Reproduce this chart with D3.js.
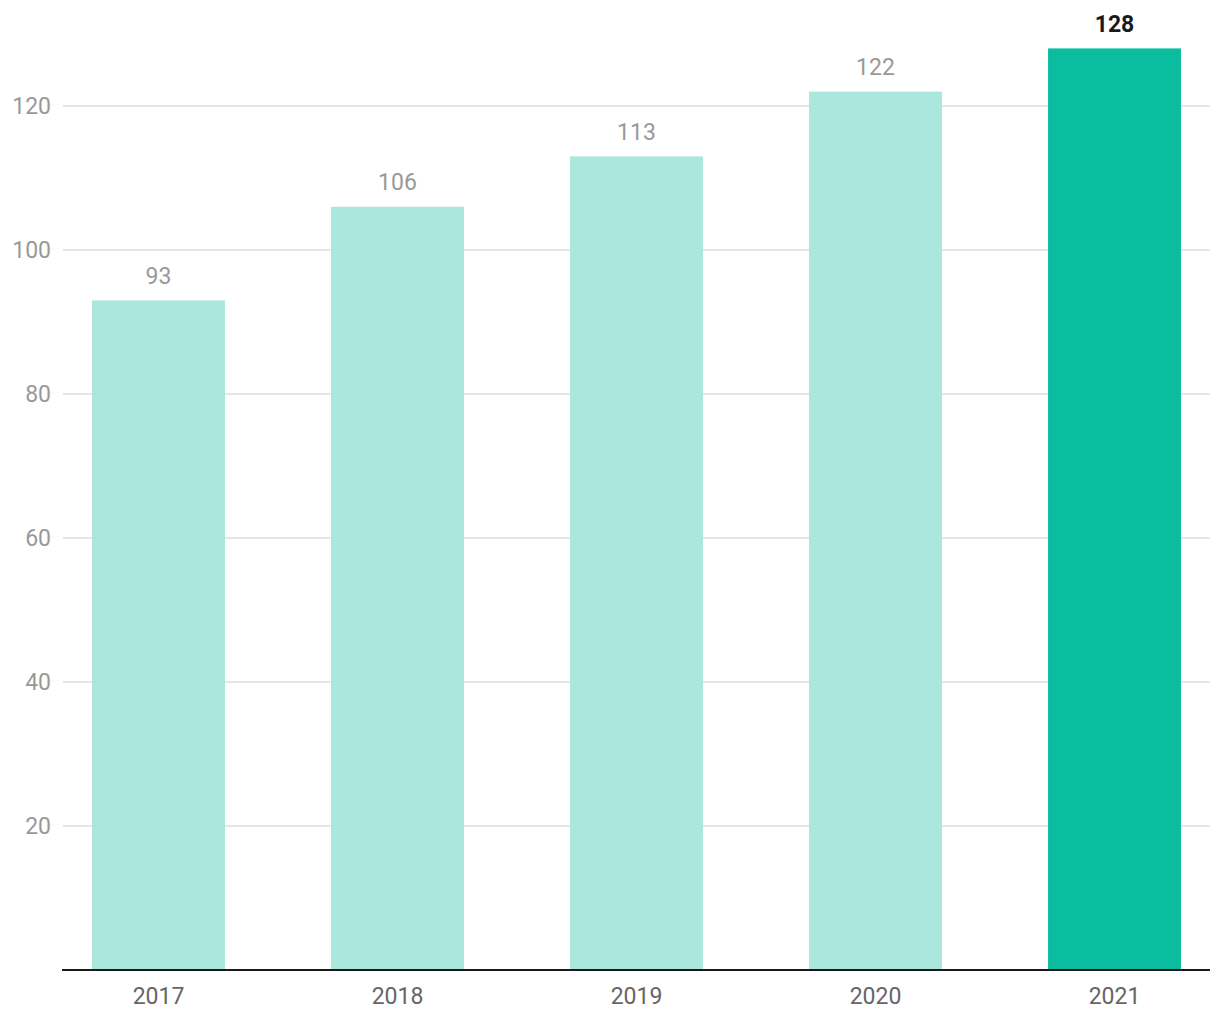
<!DOCTYPE html>
<html><head><meta charset="utf-8">
<script src="https://cdn.jsdelivr.net/npm/d3@7"></script>
<style>body{margin:0;background:#fff}svg{display:block;font-family:Roboto,sans-serif}</style>
</head><body><svg id="c" width="1220" height="1020"></svg>
<script>
const years = ["2017","2018","2019","2020","2021"];
const values = [93,106,113,122,128];
const highlight = ["2021"];
const yTicks = [20,40,60,80,100,120];

const svg = d3.select("#c");
const x = d3.scaleBand().domain(years).range([39,1234]).paddingInner(0.444).paddingOuter(0.222);
const y = d3.scaleLinear().domain([0,128]).range([970,48.4]);

svg.append("g").selectAll("line").data(yTicks).join("line")
  .attr("x1",63).attr("x2",1210).attr("y1",d=>y(d)).attr("y2",d=>y(d))
  .attr("stroke","#e6e6e6").attr("stroke-width",2);
svg.append("g").selectAll("text").data(yTicks).join("text")
  .attr("x",51).attr("y",d=>y(d)).attr("dy","0.36em").attr("text-anchor","end")
  .attr("font-size",23).attr("fill","#999").text(d=>d);

svg.append("g").selectAll("rect").data(years).join("rect")
  .attr("x",d=>x(d)).attr("width",x.bandwidth())
  .attr("y",(d,i)=>y(values[i])).attr("height",(d,i)=>y(0)-y(values[i]))
  .attr("fill",d=>highlight.includes(d)?"#0abd9f":"#aae7dc");

svg.append("g").selectAll("text").data(years).join("text")
  .attr("x",d=>x(d)+x.bandwidth()/2).attr("y",(d,i)=>y(values[i])-16.5)
  .attr("text-anchor","middle").attr("font-size",23)
  .attr("font-weight",d=>highlight.includes(d)?"bold":"normal")
  .attr("fill",d=>highlight.includes(d)?"#1a1a1a":"#999")
  .text((d,i)=>values[i]);

svg.append("line").attr("x1",62).attr("x2",1210).attr("y1",970).attr("y2",970)
  .attr("stroke","#1a1a1a").attr("stroke-width",2);

svg.append("g").selectAll("text").data(years).join("text")
  .attr("x",d=>x(d)+x.bandwidth()/2).attr("y",1004)
  .attr("text-anchor","middle").attr("font-size",23).attr("fill","#666").text(d=>d);
</script></body></html>
